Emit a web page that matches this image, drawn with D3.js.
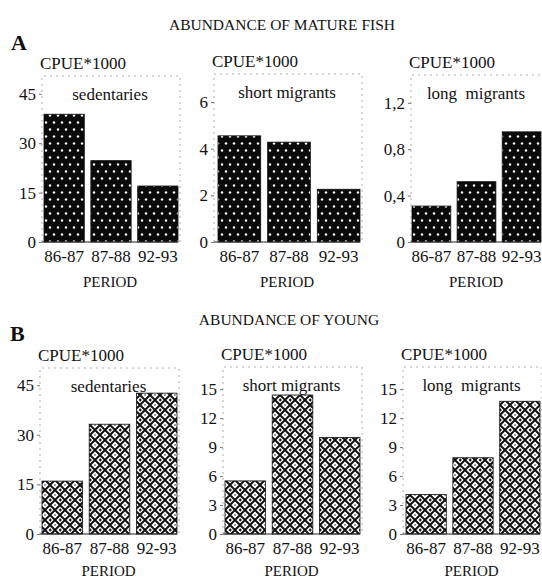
<!DOCTYPE html>
<html>
<head>
<meta charset="utf-8">
<script src="https://cdn.jsdelivr.net/npm/d3@7"></script>
<style>
  body { margin: 0; background: #fff; }
  svg text { font-family: "Liberation Serif", "Times New Roman", Times, "DejaVu Serif", "Noto Serif", serif; }
</style>
</head>
<body>
<svg id="chart" width="542" height="581"></svg>
<script>
// Data
const periods = ['86-87', '87-88', '92-93'];
const groups = ['sedentaries', 'short migrants', 'long  migrants'];

const matureValues = [
    [38.8, 24.7, 17.0],
    [4.55, 4.28, 2.26],
    [0.31, 0.52, 0.95]
];
const youngValues = [
    [16.0, 33.2, 42.6],
    [5.5, 14.4, 10.0],
    [4.1, 7.9, 13.75]
];

const matureTicks = [[0, 15, 30, 45], [0, 2, 4, 6], [0, 0.4, 0.8, 1.2]];
const youngTicks = [[0, 15, 30, 45], [0, 3, 6, 9, 12, 15], [0, 3, 6, 9, 12, 15]];

const matureMax = [50.4, 7.2, 1.44];
const youngMax = [50.2, 17.3, 17.3];

const serif = '"Liberation Serif", "Times New Roman", Times, "DejaVu Serif", serif';

const svg = d3.select('#chart');
const defs = svg.append('defs');

// Pattern for mature fish: black with white staggered dots
const dots = defs.append('pattern')
    .attr('id', 'dots')
    .attr('patternUnits', 'userSpaceOnUse')
    .attr('width', 8)
    .attr('height', 14);
dots.append('rect').attr('width', 8).attr('height', 14).attr('fill', '#0a0a0a');
dots.append('circle').attr('cx', 2).attr('cy', 3.5).attr('r', 1.2).attr('fill', '#fff');
dots.append('circle').attr('cx', 6).attr('cy', 10.5).attr('r', 1.2).attr('fill', '#fff');

// Pattern for young fish: cross-hatch diamonds with a small dot inside
const hatch = defs.append('pattern')
    .attr('id', 'hatch')
    .attr('patternUnits', 'userSpaceOnUse')
    .attr('width', 10)
    .attr('height', 10);
hatch.append('rect').attr('width', 10).attr('height', 10).attr('fill', '#fff');
hatch.append('path')
    .attr('d', 'M5,0 L10,5 L5,10 L0,5 Z M-1,-1 L1,1 M9,-1 L11,1 M-1,11 L1,9 M9,11 L11,9')
    .attr('fill', 'none')
    .attr('stroke', '#111')
    .attr('stroke-width', 2);
hatch.append('circle').attr('cx', 5).attr('cy', 5).attr('r', 0.8).attr('fill', '#222');

const fmt = d => String(d).replace('.', ',');

function addText(g, x, y, str, size, anchor) {
    return g.append('text')
        .attr('x', x)
        .attr('y', y)
        .attr('text-anchor', anchor || 'start')
        .attr('font-family', serif)
        .style('font-size', size + 'px')
        .style('white-space', 'pre')
        .attr('fill', '#111')
        .text(str);
}

function drawPanel(p) {
    const g = svg.append('g');

    const y = d3.scaleLinear()
        .domain([0, p.max])
        .range([p.y0, p.top]);

    const x = d3.scaleBand()
        .domain(periods)
        .range([p.barLeft, p.right])
        .paddingInner(0.14)
        .paddingOuter(0);

    // dashed frame
    g.append('path')
        .attr('d', `M${p.axisX},${p.y0} V${p.top} H${p.right + 2} V${p.y0}`)
        .attr('fill', 'none')
        .attr('stroke', '#999')
        .attr('stroke-width', 0.8)
        .attr('stroke-dasharray', '2,4');

    // bars
    g.selectAll('rect.bar')
        .data(p.values)
        .enter()
        .append('rect')
        .attr('class', 'bar')
        .attr('x', (d, i) => x(periods[i]))
        .attr('width', x.bandwidth())
        .attr('y', d => y(d))
        .attr('height', d => p.y0 - y(d))
        .attr('fill', `url(#${p.pattern})`)
        .attr('stroke', '#111')
        .attr('stroke-width', 0.8);

    // baseline
    g.append('line')
        .attr('x1', p.axisX).attr('x2', p.right)
        .attr('y1', p.y0).attr('y2', p.y0)
        .attr('stroke', '#222')
        .attr('stroke-width', 1);

    // y axis
    const yAxis = g.append('g')
        .attr('transform', `translate(${p.axisX},0)`)
        .call(d3.axisLeft(y).tickValues(p.ticks).tickFormat(fmt).tickSize(3).tickPadding(3));
    yAxis.attr('font-family', serif).attr('font-size', null);
    yAxis.select('.domain').remove();
    yAxis.selectAll('.tick line').attr('stroke', '#777');
    yAxis.selectAll('.tick text')
        .attr('fill', '#111')
        .attr('font-family', serif)
        .style('font-size', '17px');

    // x labels
    periods.forEach(d => addText(g, x(d) + x.bandwidth() / 2, p.y0 + 20, d, 17, 'middle'));
    addText(g, (p.axisX + p.right) / 2, p.y0 + p.periodOffset, 'PERIOD', 15, 'middle');

    // unit label
    addText(g, p.axisX - 2, p.top - 7, 'CPUE*1000', 17);

    // group name
    addText(g, (p.axisX + p.right) / 2, p.top + 24, p.name, 17, 'middle');
}

// Section A: mature fish
const colsA = [
    { axisX: 42, barLeft: 44, right: 178, top: 76 },
    { axisX: 214, barLeft: 218, right: 360, top: 74 },
    { axisX: 411, barLeft: 412, right: 541, top: 75 }
];
colsA.forEach((c, i) => drawPanel({
    ...c, y0: 242, periodOffset: 45, max: matureMax[i], ticks: matureTicks[i],
    values: matureValues[i], name: groups[i], pattern: 'dots'
}));

// Section B: young fish
const colsB = [
    { axisX: 40, barLeft: 42, right: 177, top: 368 },
    { axisX: 223, barLeft: 225, right: 360, top: 367 },
    { axisX: 403, barLeft: 406, right: 540, top: 367 }
];
colsB.forEach((c, i) => drawPanel({
    ...c, y0: 534, periodOffset: 42, max: youngMax[i], ticks: youngTicks[i],
    values: youngValues[i], name: groups[i], pattern: 'hatch'
}));

// Headings
addText(svg, 282, 30, 'ABUNDANCE OF MATURE FISH', 15.5, 'middle');
addText(svg, 289, 325, 'ABUNDANCE OF YOUNG', 15.5, 'middle');

addText(svg, 11, 50, 'A', 22).style('font-weight', 'bold');
addText(svg, 10, 341, 'B', 22).style('font-weight', 'bold');
</script>
</body>
</html>
